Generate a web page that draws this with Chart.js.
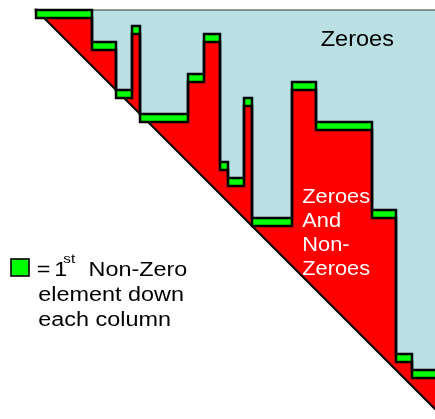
<!DOCTYPE html>
<html><head><meta charset="utf-8">
<script src="https://cdn.jsdelivr.net/npm/chart.js@4"></script>
<style>html,body{margin:0;padding:0;background:#fff;}#wrap{position:relative;width:435px;height:419px;}</style>
</head><body><div id="wrap"><canvas id="c"></canvas></div>
<script>
// ---- data ----
const matrixSize = 50;
const colStarts = [0, 7, 10, 12, 13, 19, 21, 23, 24, 26, 27, 32, 35, 42, 45, 47];
const firstNonZeroRow = [0, 4, 10, 2, 13, 8, 3, 19, 21, 11, 26, 9, 14, 25, 43, 45];
const zeroLabel = 'Zeroes';
const mixedLabel = ['Zeroes', 'And', 'Non-', 'Zeroes'];
const legendFirst = ['=', '1', 'st', 'Non-Zero'];
const legendMore = ['element down', 'each column'];

// ---- view ----
const X_MIN = -4.5, X_MAX = 49.875, Y_MIN = -1.25, Y_MAX = 51.125;
const BLUE = '#BBE0E3', RED = '#FF0000', GREEN = '#00FF00', NONE = 'rgba(0,0,0,0)';
const FONT = '"Liberation Sans", Arial, sans-serif';

const colEnds = colStarts.slice(1).concat([matrixSize]);
const topPts = [];
const botPts = [{x: colStarts[0], y: firstNonZeroRow[0]}];
colStarts.forEach((c, i) => {
  const r = firstNonZeroRow[i];
  topPts.push({x: c, y: r}, {x: colEnds[i], y: r});
  botPts.push({x: c, y: r + 1}, {x: colEnds[i], y: r + 1});
});
const diag = [{x: 0, y: 0}, {x: matrixSize, y: matrixSize}];
const topEdge = [{x: 0, y: 0}, {x: matrixSize, y: 0}];

const base = {pointRadius: 0, pointHoverRadius: 0, tension: 0, borderJoinStyle: 'miter', borderCapStyle: 'square', borderColor: NONE, borderWidth: 1};
const datasets = [
  {...base, data: diag, fill: {target: {value: 0}}, backgroundColor: BLUE, order: 10},
  {...base, data: topEdge, fill: false, borderColor: '#333', borderWidth: 1, order: 9},
  {...base, data: topPts, fill: {target: {value: Y_MAX}}, backgroundColor: RED, order: 8},
  {...base, data: diag, fill: {target: {value: Y_MAX}}, backgroundColor: '#FFFFFF', borderColor: '#000', borderWidth: 2, order: 7},
  ...colStarts.map((c, i) => ({...base,
    data: [{x: c, y: firstNonZeroRow[i]}, {x: colEnds[i], y: firstNonZeroRow[i]}],
    fill: {target: {value: firstNonZeroRow[i] + 1}}, backgroundColor: GREEN, order: 6})),
  {...base, data: topPts, fill: false, borderColor: '#000', borderWidth: 2.5, order: 5},
  {...base, data: botPts, fill: false, borderColor: '#000', borderWidth: 2.5, order: 5}
];

function txt(ctx, s, x, y, size, color, sx) {
  ctx.save();
  ctx.font = size + 'px ' + FONT;
  ctx.fillStyle = color;
  ctx.textBaseline = 'alphabetic';
  ctx.textAlign = 'left';
  ctx.translate(x, y);
  ctx.scale(sx, 1);
  ctx.fillText(s, 0, 0);
  ctx.restore();
}

const labels = {
  id: 'labels',
  afterDraw(chart) {
    const ctx = chart.ctx;
    txt(ctx, zeroLabel, 320.7, 46.3, 22, '#000', 1.07);
    const wb = [202.7, 226.7, 251, 275];
    mixedLabel.forEach((s, i) => txt(ctx, s, 302.3, wb[i], 20, '#FFF', 1.09));
    // legend marker
    ctx.save();
    ctx.fillStyle = GREEN; ctx.fillRect(11, 259, 18, 17);
    ctx.strokeStyle = '#000'; ctx.lineWidth = 1.6; ctx.strokeRect(11, 259, 18, 17);
    ctx.restore();
    txt(ctx, legendFirst[0], 36.7, 276, 20, '#000', 1.17);
    txt(ctx, legendFirst[1], 54.3, 276, 20, '#000', 1.17);
    txt(ctx, legendFirst[2], 63.3, 263, 13, '#000', 1.17);
    txt(ctx, legendFirst[3], 88.5, 276, 20, '#000', 1.17);
    txt(ctx, legendMore[0], 38.3, 300.7, 20, '#000', 1.17);
    txt(ctx, legendMore[1], 38.3, 326, 20, '#000', 1.17);
  }
};

new Chart(document.getElementById('c'), {
  type: 'line',
  data: {datasets},
  plugins: [labels],
  options: {
    responsive: true, maintainAspectRatio: false, animation: false, events: [],
    layout: {padding: 0},
    plugins: {legend: {display: false}, tooltip: {enabled: false}, filler: {drawTime: 'beforeDatasetDraw', propagate: false}},
    scales: {
      x: {type: 'linear', min: X_MIN, max: X_MAX, display: false},
      y: {type: 'linear', min: Y_MIN, max: Y_MAX, reverse: true, display: false}
    }
  }
});
</script></body></html>
